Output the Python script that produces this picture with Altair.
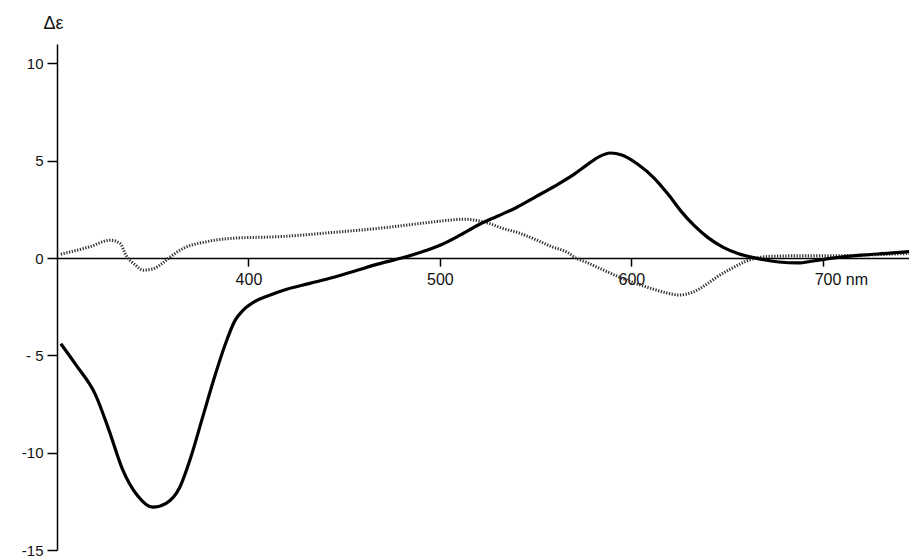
import altair as alt
import pandas as pd

# Solid curve (nm, delta epsilon)
solid_nm = [302, 310, 320, 327, 334, 342, 350, 357, 364, 370, 376, 382, 388, 393, 397,
            403, 410, 420, 432, 444, 456, 468, 480, 490, 501, 510, 520, 530, 540, 550,
            560, 570, 577, 583, 589, 595, 603, 612, 619, 626, 633, 640, 648, 656, 665, 677,
            687, 695, 705, 720, 735, 748]
solid_de = [-4.4, -5.5, -7.0, -8.8, -10.8, -12.2, -12.8, -12.6, -11.8, -10.2, -8.2, -6.2, -4.4, -3.2, -2.7,
            -2.25, -1.95, -1.6, -1.3, -1.0, -0.65, -0.3, 0.0, 0.3, 0.7, 1.15, 1.7, 2.15, 2.6, 3.15,
            3.7, 4.3, 4.8, 5.2, 5.4, 5.3, 4.85, 4.1, 3.3, 2.4, 1.65, 1.05, 0.55, 0.22, 0.0, -0.2,
            -0.25, -0.15, 0.0, 0.15, 0.25, 0.35]

# Dotted curve (nm, delta epsilon)
dotted_nm = [302, 317, 328, 333, 336, 341, 345, 350, 355, 359, 366, 378, 392, 416, 442,
             470, 494, 505, 512, 518, 525, 532, 541, 550, 558, 567, 571, 576, 584, 593,
             602, 610, 618, 625, 632, 640, 645, 652, 659, 665, 675, 690, 705, 720, 735, 748]
dotted_de = [0.2, 0.58, 0.92, 0.75, 0.15, -0.36, -0.62, -0.56, -0.27, 0.05, 0.5, 0.84, 1.02, 1.1, 1.3,
             1.55, 1.83, 1.95, 2.0, 1.95, 1.8, 1.55, 1.3, 0.95, 0.6, 0.27, 0.0, -0.2, -0.55, -0.95,
             -1.3, -1.55, -1.78, -1.9, -1.75, -1.3, -0.95, -0.55, -0.2, 0.0, 0.1, 0.12, 0.12, 0.15, 0.2, 0.25]

y_ticks = [-15, -10, -5, 0, 5, 10]
y_tick_labels = ["-15", "-10", "- 5", "0", "5", "10"]
x_ticks = [400, 500, 600, 700]

df_s = pd.DataFrame({"nm": solid_nm, "de": solid_de, "s": "solid"})
df_d = pd.DataFrame({"nm": dotted_nm, "de": dotted_de, "s": "dotted"})

W, H = 852, 506
ymin, ymax = -15, 11
zero_from_bottom = H * (0 - ymin) / (ymax - ymin)

label_expr = "{" + ",".join(f"'{v}':'{l}'" for v, l in zip(y_ticks, y_tick_labels)) + "}[datum.value]"

x_enc = alt.X("nm:Q",
              scale=alt.Scale(domain=[300, 745], nice=False, zero=False),
              axis=alt.Axis(values=x_ticks, title=None, grid=False,
                            offset=-zero_from_bottom,
                            labelExpr="datum.value == 700 ? '700  nm' : datum.label",
                            labelOffset={"condition": {"test": "datum.value == 700", "value": 18}, "value": 0},
                            tickSize=8, tickWidth=1.5, tickColor="black",
                            domainColor="black", domainWidth=1.5,
                            labelFont="Liberation Sans", labelFontSize=16, labelColor="#111",
                            labelPadding=5))
y_enc = alt.Y("de:Q",
              scale=alt.Scale(domain=[ymin, ymax], nice=False, zero=False),
              axis=alt.Axis(values=y_ticks, labelExpr=label_expr, grid=False,
                            title="Δε", titleAngle=0, titleX=-4, titleY=-21,
                            titleAlign="center", titleBaseline="middle",
                            titleFont="Liberation Sans", titleFontSize=18, titleFontWeight="normal",
                            titleColor="#111",
                            tickSize=10, tickWidth=1.5, tickColor="black",
                            domainColor="black", domainWidth=1.5,
                            labelFont="Liberation Sans", labelFontSize=15, labelColor="#111",
                            labelPadding=4))

solid = alt.Chart(df_s).mark_line(color="black", strokeWidth=3.2, interpolate="monotone", clip=True).encode(
    x=x_enc, y=y_enc)
dotted = alt.Chart(df_d).mark_line(color="#333", strokeWidth=3, strokeDash=[1.3, 1.5],
                                   interpolate="monotone", clip=True).encode(
    x=alt.X("nm:Q"), y=alt.Y("de:Q"))

chart = alt.layer(dotted, solid).properties(
    width=W, height=H,
    autosize=alt.AutoSizeParams(type="none"),
    padding={"left": 49, "top": 36, "right": 0, "bottom": 12},
    background="white",
).configure_view(stroke=None)

chart.save("out.html", embed_options={"renderer": "svg", "actions": False})
